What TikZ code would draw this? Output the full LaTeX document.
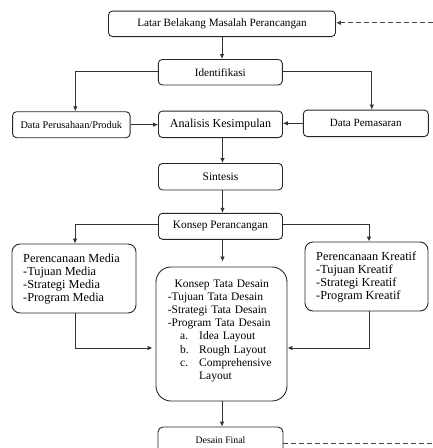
\documentclass[tikz,border=0pt]{standalone}
\usepackage{fontspec}
\setmainfont{Liberation Serif}
\usetikzlibrary{arrows.meta,calc}
\tikzset{
  box/.style={draw=black!85, line width=0.9pt, rounded corners=4pt, inner sep=0pt, align=center},
  bigbox/.style={box, rounded corners=8pt},
  txt/.style={inner sep=0pt, align=left, anchor=north west},
  ln/.style={draw=black!80, line width=0.8pt},
  arr/.style={ln, -{Latex[length=5pt,width=4.5pt]}},
  dsh/.style={draw=black!75, line width=0.8pt, dash pattern=on 5pt off 3pt},
}
\newcommand{\myfs}[2]{\fontsize{#1}{#2}\selectfont}
\begin{document}
\begin{tikzpicture}[x=1pt,y=-1pt]
\path[use as bounding box] (0,0) rectangle (433,448);
\clip (0,0) rectangle (433,448);

% single-line boxes
\node[box, minimum width=227pt, minimum height=25.5pt, font=\myfs{11.2}{13}] (latar) at (222,23.8) {Latar Belakang Masalah Perancangan};
\node[box, minimum width=124pt, minimum height=25.5pt, font=\myfs{11.2}{13}] (ident) at (220.3,72.2) {Identifikasi};
\node[box, minimum width=117.5pt, minimum height=26pt, font=\myfs{10.3}{12}] (dp) at (71.3,124.7) {Data Perusahaan/Produk};
\node[box, minimum width=124pt, minimum height=26.5pt, font=\myfs{12.1}{14}] (an) at (220.5,124.3) {Analisis Kesimpulan};
\node[box, minimum width=125pt, minimum height=26.5pt, font=\myfs{11.1}{13}] (dm) at (365.8,123.3) {Data Pemasaran};
\node[box, minimum width=124pt, minimum height=26.5pt, font=\myfs{11.5}{13}] (sin) at (220.5,176.7) {Sintesis};
\node[box, minimum width=124pt, minimum height=26pt, font=\myfs{11.3}{13}] (kp) at (220.5,226.3) {Konsep Perancangan};
\node[box, rounded corners=5pt, minimum width=125pt, minimum height=26pt, font=\myfs{9.8}{12}] (df) at (220.5,440) {Desain Final};

% multi-line boxes
\node[bigbox, minimum width=124pt, minimum height=69pt] (pm) at (74,278.5) {};
\node[txt, font=\myfs{12.3}{13}] (pmtext) at (23,253.6) {Perencanaan Media\\-Tujuan Media\\-Strategi Media\\-Program Media};

\node[bigbox, minimum width=123pt, minimum height=69pt] (pk) at (366.5,276.5) {};
\node[txt, font=\myfs{12.3}{13}] (pktext) at (316,252.1) {Perencanaan Kreatif\\-Tujuan Kreatif\\-Strategi Kreatif\\-Program Kreatif};

\node[box, rounded corners=15pt, minimum width=131pt, minimum height=134pt] (ktd) at (221.5,334) {};
\node[txt, text width=107.6pt, font=\myfs{11.5}{13.1}] (ktdtext) at (167.7,279.7) {%
\makebox[\linewidth]{Konsep Tata Desain}\\
-Tujuan Tata Desain\\
-Strategi Tata Desain\\
-Program Tata Desain\\
\hspace*{12.3pt}\makebox[19pt][l]{a.}Idea Layout\\
\hspace*{12.3pt}\makebox[19pt][l]{b.}Rough Layout\\
\hspace*{12.3pt}\makebox[19pt][l]{c.}Comprehensive\\
\hspace*{31.3pt}Layout};

% connectors
\coordinate (dashR) at (440,0);
\draw[arr] (latar.south) -- (latar.south |- ident.north);
\draw[arr] ([yshift=1pt]ident.west) -| ([xshift=4pt]dp.north);
\draw[arr] ([yshift=1pt]ident.east) -| ([xshift=6pt]dm.north);
\draw[arr] (dp.east) -- (dp.east -| an.west);
\draw[arr] (dm.west) -- (dm.west -| an.east);
\draw[arr] ([xshift=2pt]an.south) -- ([xshift=2pt]an.south |- sin.north);
\draw[arr] ([xshift=2pt]sin.south) -- ([xshift=2pt]sin.south |- kp.north);
\draw[arr] ([yshift=2pt]kp.west) -| ([xshift=1pt]pm.north);
\draw[arr] ([yshift=2pt]kp.east) -| ([xshift=2.5pt]pk.north);
\draw[arr, shorten >=5pt] ([xshift=2pt]kp.south) -- ([xshift=2pt]kp.south |- ktd.north);
\draw[arr, shorten >=3pt] ([xshift=1pt]pm.south) |- ([yshift=-14pt]ktd.west);
\draw[arr] ([xshift=2.5pt]pk.south) |- ([yshift=-14pt]ktd.east);
\draw[arr] ([xshift=0.5pt]ktd.south) -- ([xshift=0.5pt]ktd.south |- df.north);
\draw[dsh, -{Latex[length=5pt,width=4.5pt]}] ([yshift=-3pt]df.east) -- ([yshift=-3pt]df.east -| dashR) |- ([yshift=1pt]latar.east);
\end{tikzpicture}
\end{document}
